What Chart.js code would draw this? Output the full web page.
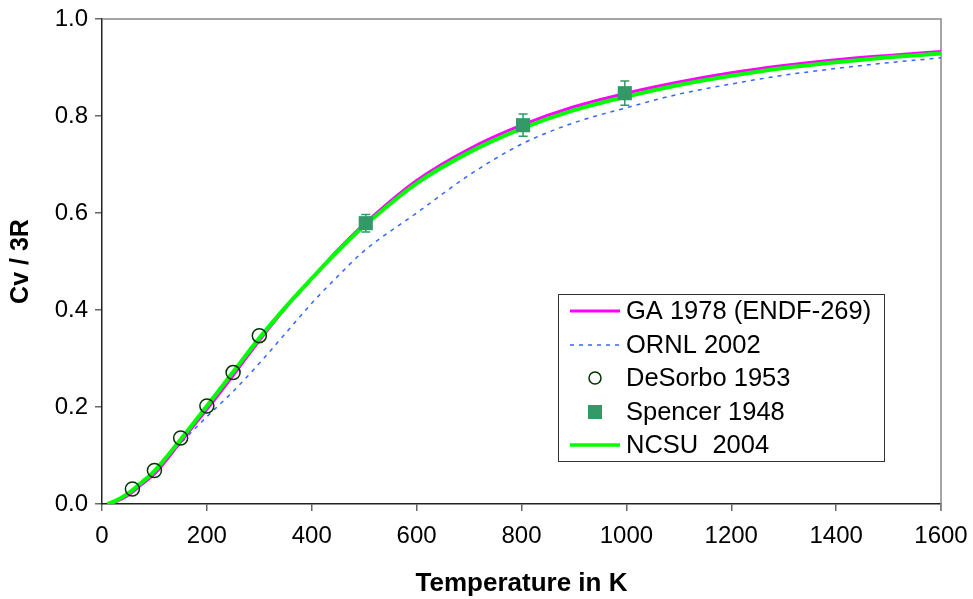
<!DOCTYPE html>
<html>
<head>
<meta charset="utf-8">
<script src="https://cdn.jsdelivr.net/npm/chart.js@4/dist/chart.umd.min.js"></script>
<style>
html,body{margin:0;padding:0;background:#fff;}
#wrap{width:973px;height:599px;}
</style>
</head>
<body>
<div id="wrap"><canvas id="c" width="973" height="599"></canvas></div>
<script>
// Temperatures (K) for the model curves
const curveT = [10, 25, 50, 75, 100, 150, 200, 250, 300, 350, 400, 450, 500, 600, 700, 800, 900, 1000, 1100, 1200, 1300, 1400, 1500, 1600];
const ga1978 = [0, 0.004, 0.018, 0.040, 0.062, 0.128, 0.195, 0.265, 0.337, 0.404, 0.465, 0.524, 0.577, 0.667, 0.732, 0.781, 0.819, 0.847, 0.870, 0.889, 0.904, 0.916, 0.925, 0.933];
const ncsu2004 = [0, 0.006, 0.022, 0.044, 0.068, 0.133, 0.202, 0.272, 0.342, 0.406, 0.465, 0.522, 0.573, 0.661, 0.725, 0.774, 0.812, 0.840, 0.864, 0.883, 0.899, 0.911, 0.921, 0.929];
const ornl2002 = [0, 0.004, 0.018, 0.040, 0.065, 0.125, 0.180, 0.232, 0.290, 0.352, 0.414, 0.470, 0.522, 0.600, 0.678, 0.742, 0.786, 0.817, 0.845, 0.866, 0.884, 0.898, 0.910, 0.920];
// Measurements
const desorboT = [58, 100, 150, 200, 250, 300];
const desorboV = [0.031, 0.069, 0.136, 0.202, 0.271, 0.347];
const spencerT = [503, 803, 997];
const spencerV = [0.579, 0.781, 0.847];
const spencerErr = [0.018, 0.023, 0.025];
const xTicks = [0, 200, 400, 600, 800, 1000, 1200, 1400, 1600];
const yTicks = [0.0, 0.2, 0.4, 0.6, 0.8, 1.0];

const pts = (xs, ys) => xs.map((x, i) => ({x: x, y: ys[i]}));

const FONT = 'Liberation Sans, Arial, sans-serif';

const errorBars = {
  id: 'errorBars',
  afterDatasetsDraw(chart) {
    const ctx = chart.ctx, xs = chart.scales.x, ys = chart.scales.y;
    ctx.save();
    ctx.strokeStyle = '#339966';
    ctx.lineWidth = 1.5;
    spencerT.forEach((t, i) => {
      const px = xs.getPixelForValue(t);
      const top = ys.getPixelForValue(spencerV[i] + spencerErr[i]);
      const bot = ys.getPixelForValue(spencerV[i] - spencerErr[i]);
      ctx.beginPath();
      ctx.moveTo(px, top); ctx.lineTo(px, bot);
      ctx.moveTo(px - 4.5, top); ctx.lineTo(px + 4.5, top);
      ctx.moveTo(px - 4.5, bot); ctx.lineTo(px + 4.5, bot);
      ctx.stroke();
    });
    ctx.restore();
  }
};

const frame = {
  id: 'frame',
  beforeDatasetsDraw(chart) {
    const ctx = chart.ctx, a = chart.chartArea;
    ctx.save();
    ctx.strokeStyle = '#888888';
    ctx.lineWidth = 1.5;
    ctx.beginPath();
    ctx.moveTo(a.left, a.top); ctx.lineTo(a.right, a.top); ctx.lineTo(a.right, a.bottom + 7);
    ctx.stroke();
    ctx.restore();
  }
};

const boxLegend = {
  id: 'boxLegend',
  afterDraw(chart) {
    const ctx = chart.ctx;
    const x0 = 558, y0 = 294, w = 326, h = 167;
    ctx.save();
    ctx.fillStyle = '#fff';
    ctx.fillRect(x0, y0, w, h);
    ctx.strokeStyle = '#333';
    ctx.lineWidth = 1;
    ctx.strokeRect(x0 + 0.5, y0 + 0.5, w, h);
    const rowY = [311, 345, 378, 412, 445];
    ctx.font = '25.5px ' + FONT;
    ctx.textBaseline = 'middle';
    ctx.textAlign = 'left';
    chart.data.datasets.forEach((ds, r) => {
      const y = rowY[r];
      if (ds.showLine) {
        ctx.strokeStyle = ds.borderColor;
        ctx.lineWidth = ds.legendWidth;
        ctx.setLineDash(ds.borderDash || []);
        ctx.beginPath(); ctx.moveTo(570, y); ctx.lineTo(620, y); ctx.stroke();
        ctx.setLineDash([]);
      } else if (ds.pointStyle === 'circle') {
        ctx.strokeStyle = ds.pointBorderColor; ctx.lineWidth = 1.5;
        ctx.beginPath(); ctx.arc(595, y, 6, 0, Math.PI * 2); ctx.stroke();
      } else {
        ctx.fillStyle = ds.pointBackgroundColor;
        ctx.fillRect(588, y - 7, 14, 14);
      }
      ctx.fillStyle = '#000';
      ctx.fillText(ds.label, 626, y + 1);
    });
    ctx.restore();
  }
};

new Chart(document.getElementById('c'), {
  type: 'scatter',
  data: {
    datasets: [
      {label: 'GA 1978 (ENDF-269)', data: pts(curveT, ga1978), showLine: true, borderColor: '#ff00ff', borderWidth: 3, legendWidth: 3, pointRadius: 0, cubicInterpolationMode: 'monotone', order: 3},
      {label: 'ORNL 2002', data: pts(curveT, ornl2002), showLine: true, borderColor: '#3366ff', borderWidth: 1.5, legendWidth: 1.5, borderDash: [4, 5], pointRadius: 0, cubicInterpolationMode: 'monotone', order: 4},
      {label: 'DeSorbo 1953', data: pts(desorboT, desorboV), showLine: false, pointStyle: 'circle', pointRadius: 7, pointBorderWidth: 1.5, pointBorderColor: '#003300', pointBackgroundColor: 'rgba(0,0,0,0)', order: 0},
      {label: 'Spencer 1948', data: pts(spencerT, spencerV), showLine: false, pointStyle: 'rect', pointRadius: 10, pointBorderWidth: 0, pointBorderColor: '#339966', pointBackgroundColor: '#339966', order: 1},
      {label: 'NCSU  2004', data: pts(curveT, ncsu2004), showLine: true, borderColor: '#00ff00', borderWidth: 4, legendWidth: 3.5, pointRadius: 0, cubicInterpolationMode: 'monotone', order: 2}
    ]
  },
  options: {
    responsive: false,
    animation: false,
    layout: {padding: {left: 0, right: 32, top: 19, bottom: 0}},
    plugins: {legend: {display: false}, tooltip: {enabled: false}},
    scales: {
      x: {
        type: 'linear', min: 0, max: 1600,
        afterBuildTicks: s => { s.ticks = xTicks.map(v => ({value: v})); },
        afterFit: s => { s.height = 95; s.paddingLeft = 0; s.paddingRight = 0; },
        ticks: {color: '#000', font: {family: FONT, size: 24}, padding: 11, maxRotation: 0, callback: v => String(v)},
        grid: {drawOnChartArea: false, drawTicks: true, tickLength: 7, color: '#666', lineWidth: 1.5},
        border: {color: '#222', width: 1.5},
        title: {display: true, text: 'Temperature in K', color: '#000', font: {family: FONT, size: 26, weight: 'bold'}, padding: {top: 0, bottom: 0}}
      },
      y: {
        type: 'linear', min: 0, max: 1,
        afterBuildTicks: s => { s.ticks = yTicks.map(v => ({value: v})); },
        afterFit: s => { s.width = 102; s.paddingTop = 0; s.paddingBottom = 0; },
        ticks: {color: '#000', font: {family: FONT, size: 24}, padding: 7, callback: v => Number(v).toFixed(1)},
        grid: {drawOnChartArea: false, drawTicks: true, tickLength: 7, color: '#666', lineWidth: 1.5},
        border: {color: '#222', width: 1.5},
        title: {display: true, text: 'Cv / 3R', color: '#000', font: {family: FONT, size: 25, weight: 'bold'}, padding: {top: 6, bottom: 0}}
      }
    }
  },
  plugins: [frame, errorBars, boxLegend]
});
</script>
</body>
</html>
